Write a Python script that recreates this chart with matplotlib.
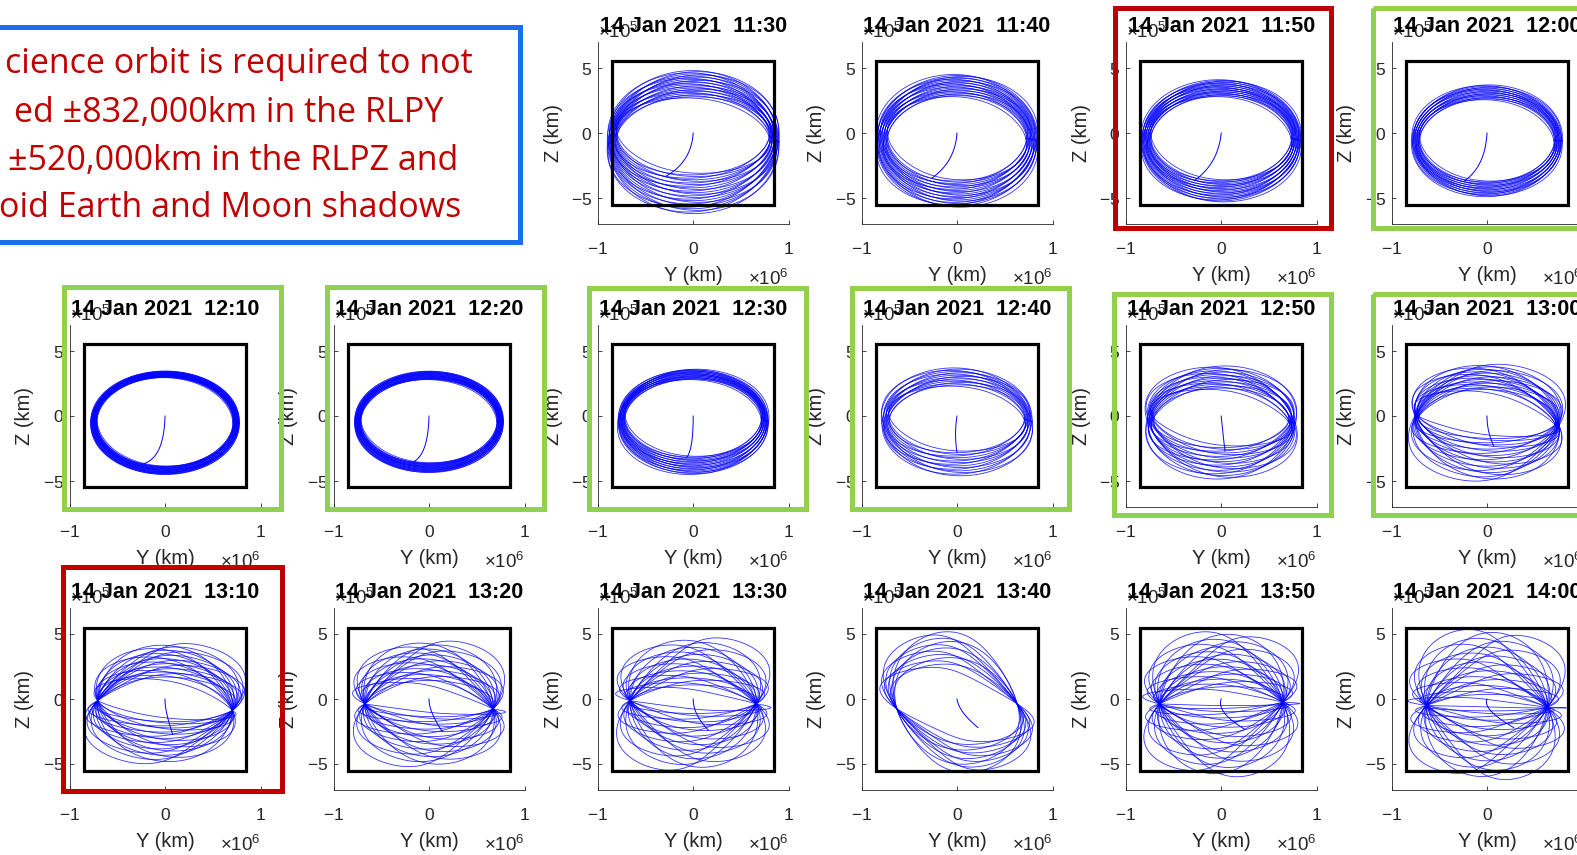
"""
Science-orbit snapshots, 14 Jan 2021 (RLP Y-Z plane)
"""
import numpy as np
import matplotlib.pyplot as plt
from matplotlib.patches import Rectangle
from matplotlib.ticker import ScalarFormatter

plt.rcParams["font.family"] = ["Liberation Sans", "DejaVu Sans"]
plt.rcParams["axes.unicode_minus"] = False
plt.rcParams["mathtext.fontset"] = "custom"
plt.rcParams["mathtext.rm"] = "Liberation Sans"
plt.rcParams["mathtext.it"] = "Liberation Sans:italic"
plt.rcParams["mathtext.bf"] = "Liberation Sans:bold"

# ---- data ----
date_str = "14 Jan 2021"
stamps = ["11:30", "11:40", "11:50", "12:00",
          "12:10", "12:20", "12:30", "12:40", "12:50", "13:00",
          "13:10", "13:20", "13:30", "13:40", "13:50", "14:00"]
verdict = ["", "", "fail", "pass",
           "pass", "pass", "pass", "pass", "pass", "pass",
           "fail", "", "", "", "", ""]

# keep-in box (km)
box_y_km = 850000
box_z_km = 550000

# orbit bundle per panel: Y in 1e6 km, Z in 1e5 km ("in" = innermost loop, "out" = outermost)
n_loops    = [26, 24, 24, 20, 26, 26, 22, 16, 20, 22, 22, 22, 22, 12, 24, 24]
node_y_in  = [0.79, 0.72, 0.73, 0.70, 0.71, 0.71, 0.71, 0.70, 0.70, 0.71, 0.705, 0.67, 0.66, 0.63, 0.645, 0.63]
node_y_out = [0.90, 0.85, 0.84, 0.79, 0.78, 0.78, 0.79, 0.79, 0.78, 0.76, 0.705, 0.67, 0.66, 0.63, 0.645, 0.63]
mid_z_in   = [-0.20, -0.40, -0.40, -0.57, -0.45, -0.40, -0.15, -0.20, -0.30, -0.35, -0.51, -0.57, -0.25, -0.57, -0.31, -0.57]
mid_z_out  = [-0.70, -0.60, -0.60, -0.60, -0.52, -0.45, -0.45, -0.45, -0.45, -0.35, -0.51, -0.57, -0.25, -0.57, -0.31, -0.57]
node_tilt  = [0.0, 0.0, 0.0, 0.0, 0.0, 0.0, 0.0, 0.0, -0.10, -0.30, -0.38, -0.19, -0.12, 0.19, 0.065, -0.07]
lean_lo    = [-0.15, -0.12, -0.10, -0.08, -0.04, -0.05, -0.08, -0.15, -0.25, -0.30, -0.25, -0.50, -0.55, -0.60, -0.60, -0.65]
lean_hi    = [0.15, 0.12, 0.10, 0.08, 0.04, 0.05, 0.08, 0.15, 0.25, 0.35, 0.55, 0.50, 0.55, -0.15, 0.60, 0.65]
up_in      = [2.90, 3.20, 3.20, 3.13, 3.40, 3.20, 2.95, 2.50, 2.35, 2.27, 2.04, 1.84, 1.15, 3.00, 1.07, 0.70]
up_out     = [5.50, 5.10, 4.70, 4.30, 3.98, 3.90, 4.05, 4.15, 4.30, 4.32, 4.76, 5.02, 4.95, 5.74, 5.48, 5.92]
dn_in      = [2.90, 3.20, 3.20, 3.13, 3.40, 3.20, 2.95, 2.50, 2.00, 1.19, 1.02, 0.58, 0.64, 2.70, 0.19, 0.10]
dn_out     = [5.50, 5.10, 4.70, 4.30, 3.98, 3.90, 4.05, 4.15, 4.40, 4.65, 4.45, 4.63, 5.22, 5.10, 5.67, 5.63]

# transfer arc from the origin: bend point and end point
arc_ctl_y = [-0.02, -0.02, -0.03, -0.02, -0.01, -0.01, 0.00, -0.03, 0.02, 0.00, 0.00, 0.00, 0.00, 0.02, -0.05, -0.05]
arc_ctl_z = [-2.2, -2.2, -2.3, -2.6, -3.3, -3.2, -2.6, -1.4, -1.5, -1.2, -1.0, -1.0, -1.2, -1.0, -1.0, -0.8]
arc_end_y = [-0.28, -0.26, -0.27, -0.24, -0.24, -0.19, -0.07, 0.00, 0.04, 0.07, 0.08, 0.14, 0.16, 0.22, 0.24, 0.28]
arc_end_z = [-3.3, -3.45, -3.6, -3.7, -3.7, -3.6, -3.2, -2.8, -2.7, -2.3, -2.7, -2.5, -2.4, -2.2, -2.3, -2.2]

note_lines = ["cience orbit is required to not",
              "ed \u00b1832,000km in the RLPY",
              "\u00b1520,000km in the RLPZ and",
              "oid Earth and Moon shadows"]

# ---- layout (pixels) ----
W, H = 1577, 855
col_left = [69.5, 333.5, 597.7, 861.5, 1125.7, 1391.5]
row_top = [42.0, 325.0, 608.0]
ax_w, ax_h = 191.0, 182.0
slots = [(0, 2), (0, 3), (0, 4), (0, 5)] + [(1, c) for c in range(6)] + [(2, c) for c in range(6)]
frames = {2: (1115, 8, 1331, 228), 3: (1373, 8, 1590, 228),
          4: (64, 287, 281, 509), 5: (327, 287, 544, 509),
          6: (589, 288, 806, 509), 7: (852, 288, 1069, 509),
          8: (1114, 294, 1331, 515), 9: (1373, 294, 1590, 515),
          10: (63, 567, 282, 791)}
frame_color = {"pass": "#92D050", "fail": "#C00000"}
ink = "#262626"

fig = plt.figure(figsize=(W / 100, H / 100), dpi=100)

t = np.linspace(0, 2 * np.pi, 481)
s = np.linspace(0, 1, 80)
for i, (r, c) in enumerate(slots):
    ax = fig.add_axes([col_left[c] / W, 1 - (row_top[r] + ax_h) / H, ax_w / W, ax_h / H])

    # orbit loops: size grows loop by loop, lean wanders between its limits
    n = n_loops[i]
    for k in range(n):
        f = k / (n - 1)
        g = (k * 0.618034) % 1.0
        uy = node_y_in[i] + (node_y_out[i] - node_y_in[i]) * f
        cz = mid_z_in[i] + (mid_z_out[i] - mid_z_in[i]) * f
        vy = lean_lo[i] + (lean_hi[i] - lean_lo[i]) * g
        vu = up_in[i] + (up_out[i] - up_in[i]) * f
        vd = dn_in[i] + (dn_out[i] - dn_in[i]) * f
        vz = np.where(np.sin(t) >= 0, vu, vd)
        y = uy * np.cos(t) + vy * np.sin(t) * (0.5 + 0.5 * np.cos(t) ** 2)
        z = cz + node_tilt[i] * np.cos(t) + vz * np.sin(t)
        ax.plot(y * 1e6, z * 1e5, color="#0000FF", lw=0.6, alpha=0.8)

    # transfer arc
    by = 2 * (1 - s) * s * arc_ctl_y[i] + s ** 2 * arc_end_y[i]
    bz = 2 * (1 - s) * s * arc_ctl_z[i] + s ** 2 * arc_end_z[i]
    ax.plot(by * 1e6, bz * 1e5, color="#0000FF", lw=0.7)

    # keep-in box
    ax.add_patch(Rectangle((-box_y_km, -box_z_km), 2 * box_y_km, 2 * box_z_km,
                           fill=False, ec="k", lw=2.3, zorder=3))

    ax.set_xlim(-1e6, 1e6)
    ax.set_ylim(-7e5, 7e5)
    ax.set_xticks([-1e6, 0, 1e6])
    ax.set_yticks([-5e5, 0, 5e5])
    for axis in (ax.xaxis, ax.yaxis):
        fmt = ScalarFormatter(useMathText=True)
        fmt.set_powerlimits((0, 0))
        axis.set_major_formatter(fmt)
        axis.get_offset_text().set_fontsize(13.5)
        axis.get_offset_text().set_color("#404040")
    ax.xaxis.OFFSETTEXTPAD = 9
    ax.spines["top"].set_visible(False)
    ax.spines["right"].set_visible(False)
    for sp in ("left", "bottom"):
        ax.spines[sp].set_color(ink)
        ax.spines[sp].set_linewidth(0.6)
    ax.tick_params(direction="in", length=3, width=0.6, colors=ink, labelsize=12.5)
    ax.tick_params(axis="x", pad=12)
    ax.tick_params(axis="y", pad=4)
    ax.set_xlabel("Y (km)", fontsize=14.5, color=ink, labelpad=7)
    ax.set_ylabel("Z (km)", fontsize=14.5, color=ink, labelpad=6)
    ax.set_title(f"{date_str}  {stamps[i]}", fontsize=15.5, fontweight="bold",
                 y=1.0, pad=7, color="k")

#### Overlay: frames and note ####
ov = fig.add_axes([0, 0, 1, 1], zorder=10)
ov.set_xlim(0, W)
ov.set_ylim(H, 0)
ov.axis("off")

for i, (x0, y0, x1, y1) in frames.items():
    ov.add_patch(Rectangle((x0, y0), x1 - x0, y1 - y0, fill=False,
                           ec=frame_color[verdict[i]], lw=3.6))

ov.add_patch(Rectangle((-10, 27), 530, 215, fill=False, ec="#1A6EF0", lw=3.6))
note_right = [473, 443, 458, 461]
note_base = [73, 122, 170, 217]
for line, xr, yb in zip(note_lines, note_right, note_base):
    ov.text(xr, yb, line, ha="right", va="baseline", fontsize=24.5,
            color="#C00000", family=["Open Sans", "DejaVu Sans"])

plt.savefig("out.png", dpi=100)
